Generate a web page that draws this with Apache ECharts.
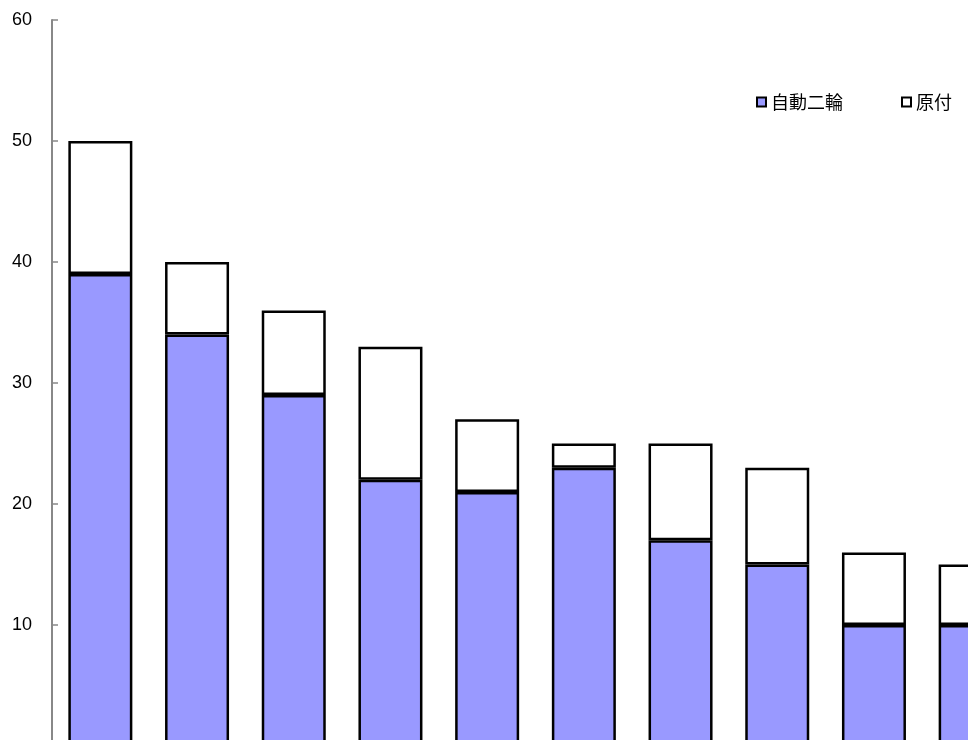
<!DOCTYPE html>
<html><head><meta charset="utf-8">
<script src="https://cdn.jsdelivr.net/npm/echarts@6/dist/echarts.min.js"></script>
<style>html,body{margin:0;padding:0;background:#fff}#c{width:968px;height:740px}</style>
</head><body><div id="c"></div>
<script>
const categories = ['1','2','3','4','5','6','7','8','9','10'];
const motorcycle = [39, 34, 29, 22, 21, 23, 17, 15, 10, 10];
const moped = [11, 6, 7, 11, 6, 2, 8, 8, 6, 5];
const yTicks = [0, 10, 20, 30, 40, 50, 60];

const chart = echarts.init(document.getElementById('c'));
chart.setOption({
  animation: false,
  backgroundColor: '#fff',
  legend: {
    left: 751, top: 88,
    icon: 'rect', itemWidth: 9, itemHeight: 9, itemGap: 58,
    textStyle: { fontSize: 18, color: '#000', fontFamily: 'Noto Sans CJK JP' },
    data: ['自動二輪', '原付']
  },
  grid: { left: 52, top: 20, width: 967, height: 726, containLabel: false, outerBoundsMode: 'none' },
  xAxis: {
    type: 'category', data: categories,
    axisLine: { show: false }, axisTick: { show: false }, axisLabel: { show: false }
  },
  yAxis: {
    type: 'value', min: yTicks[0], max: yTicks[yTicks.length - 1], interval: 10,
    axisLine: { show: true, lineStyle: { color: '#888', width: 2 } },
    axisTick: { show: true, inside: true, length: 6, lineStyle: { color: '#888', width: 1.5 } },
    axisLabel: { fontSize: 18, color: '#000', margin: 20, fontFamily: 'Liberation Sans', showMinLabel: false },
    splitLine: { show: false }
  },
  series: [
    { name: '自動二輪', type: 'bar', stack: 't', data: motorcycle, barWidth: 64,
      itemStyle: { color: '#9999FF', borderColor: '#000', borderWidth: 2.5 } },
    { name: '原付', type: 'bar', stack: 't', data: moped, barWidth: 64,
      itemStyle: { color: '#fff', borderColor: '#000', borderWidth: 2.5 } }
  ]
});
</script></body></html>
